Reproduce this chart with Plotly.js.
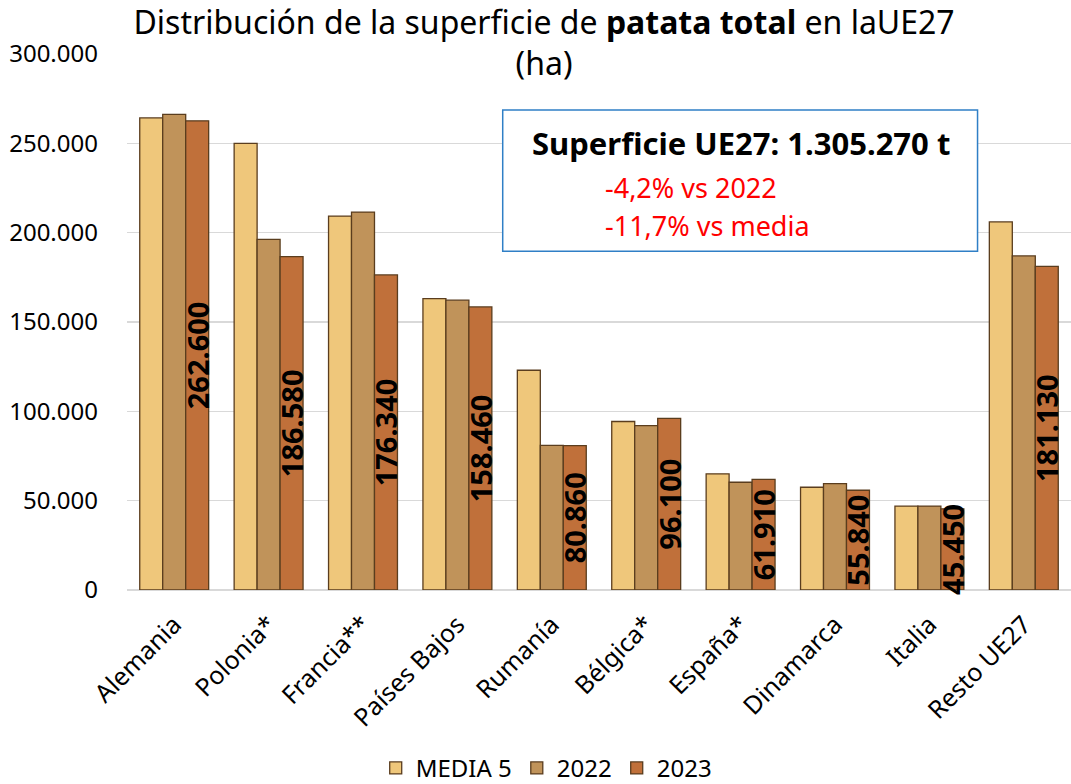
<!DOCTYPE html>
<html><head><meta charset="utf-8">
<script src="https://cdn.plot.ly/plotly-3.0.1.min.js"></script>
<style>body{margin:0;background:#fff}#chart{width:1071px;height:784px}</style>
</head><body><div id="chart"></div>
<script>
const categories = ["Alemania","Polonia*","Francia**","Países Bajos","Rumanía","Bélgica*","España*","Dinamarca","Italia","Resto UE27"];
const media5 = [264200,250000,209300,163100,123000,94300,65000,57500,47000,206000];
const y2022 = [266200,196200,211500,162200,81000,92000,60300,59500,47000,187000];
const y2023 = [262600,186580,176340,158460,80860,96100,61910,55840,45450,181130];
const seriesNames = ["MEDIA 5","2022","2023"];
const labels2023 = ["262.600","186.580","176.340","158.460","80.860","96.100","61.910","55.840","45.450","181.130"];

const colors = ["#EFC77B","#C0935A","#C0703A"];
const line = {color:"#5A3D1E", width:1.3};
const xfont = {family:"Noto Sans", size:25, color:"#000"};
const yfont = {family:"Noto Sans", size:24, color:"#000"};

const traces = [
  {type:"bar", name:seriesNames[0], x:categories, y:media5, marker:{color:colors[0], line:line}, hoverinfo:"y"},
  {type:"bar", name:seriesNames[1], x:categories, y:y2022, marker:{color:colors[1], line:line}, hoverinfo:"y"},
  {type:"bar", name:seriesNames[2], x:categories, y:y2023, marker:{color:colors[2], line:line},
   text:labels2023, textposition:"inside", textangle:-90, insidetextanchor:"middle",
   textfont:{family:"Noto Sans", size:29, color:"#000", weight:"bold"}, constraintext:"none", cliponaxis:false, hoverinfo:"y"}
];

const layout = {
  width:1071, height:784,
  margin:{l:127, r:0, t:54, b:194},
  paper_bgcolor:"#fff", plot_bgcolor:"#fff",
  separators:",.",
  barmode:"group", bargap:0.27, bargroupgap:0,
  uniformtext:{mode:"show", minsize:29},
  title:{text:"Distribución de la superficie de <b>patata total</b> en laUE27<br>(ha)",
    font:{family:"Noto Sans", size:32, color:"#000"}, x:0.508, xanchor:"center", yref:"container", y:0.957, yanchor:"middle"},
  xaxis:{tickangle:-45, tickfont:xfont, showgrid:false, showline:false, ticks:"", ticklabelstandoff:14, automargin:false},
  yaxis:{range:[0,300000], dtick:50000, tickformat:",d", tickfont:yfont, gridcolor:"#D9D9D9", gridwidth:1.5,
    zeroline:true, zerolinecolor:"#D9D9D9", zerolinewidth:1.5, ticks:"", showline:false, ticklabelstandoff:28, automargin:false},
  legend:{orientation:"h", x:0.51, xref:"container", xanchor:"center", yref:"container", y:0.02, yanchor:"middle", font:yfont, traceorder:"normal"},
  shapes:[{type:"rect", xref:"paper", yref:"paper", x0:0.398, x1:0.901, y0:0.632, y1:0.8955,
    line:{color:"#2F7FC6", width:1.5}, fillcolor:"rgba(255,255,255,1)", layer:"above"}],
  annotations:[
    {xref:"paper", yref:"paper", x:0.65, y:0.834, text:"<b>Superficie UE27: 1.305.270 t</b>", showarrow:false,
     font:{family:"Noto Sans", size:31, color:"#000"}, xanchor:"center", yanchor:"middle"},
    {xref:"paper", yref:"paper", x:0.504, y:0.751, text:"-4,2% vs 2022", showarrow:false,
     font:{family:"Noto Sans", size:27, color:"#FF0000"}, xanchor:"left", yanchor:"middle"},
    {xref:"paper", yref:"paper", x:0.504, y:0.68, text:"-11,7% vs media", showarrow:false,
     font:{family:"Noto Sans", size:27, color:"#FF0000"}, xanchor:"left", yanchor:"middle"}
  ]
};
Plotly.newPlot("chart", traces, layout, {displayModeBar:false, staticPlot:true});
</script>
</body></html>
